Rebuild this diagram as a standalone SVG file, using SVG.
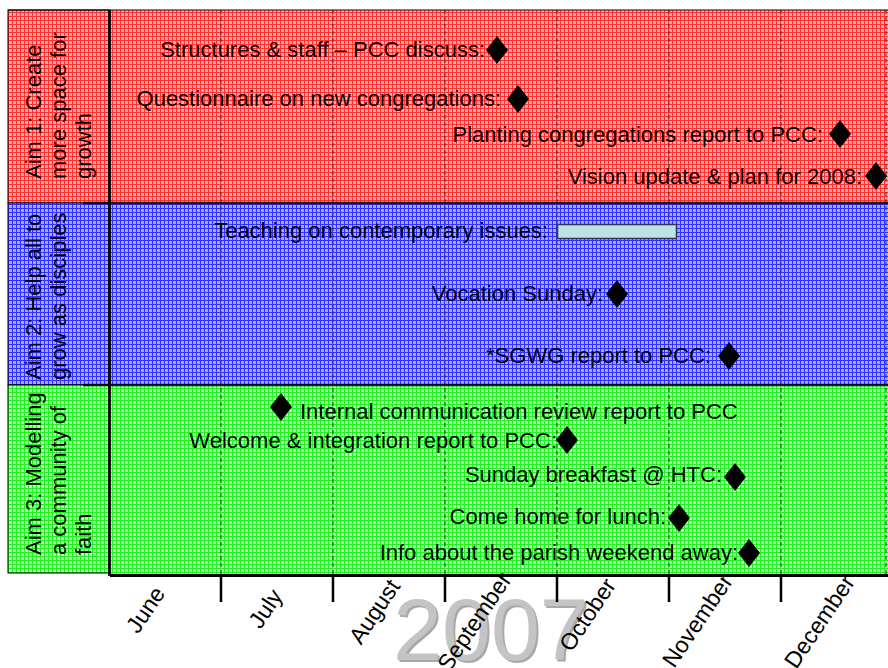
<svg xmlns="http://www.w3.org/2000/svg" width="888" height="668" viewBox="0 0 888 668">
<style>
text{font-family:"Liberation Sans",Arial,sans-serif;fill:#000}
.ev{font-size:22px;text-anchor:end}
.lab{font-size:22px}
.mon{font-size:23px;text-anchor:middle}
.grid{stroke:#333;stroke-width:1;stroke-dasharray:4 3;fill:none}
.tick{stroke:#000;stroke-width:2.5}
.sep{stroke:#000;stroke-width:2.5;stroke-opacity:0.85}
</style>
<defs>
<pattern id="pr" width="4" height="4" patternUnits="userSpaceOnUse"><rect width="4" height="4" fill="#ffa8a8"/><path d="M0 0.5H4M0.5 0V4" stroke="#ff3030" stroke-width="1"/></pattern>
<pattern id="pb" width="4" height="4" patternUnits="userSpaceOnUse"><rect width="4" height="4" fill="#a8a8ff"/><path d="M0 0.5H4M0.5 0V4" stroke="#3030ff" stroke-width="1"/></pattern>
<pattern id="pg" width="4" height="4" patternUnits="userSpaceOnUse"><rect width="4" height="4" fill="#a8ffa8"/><path d="M0 0.5H4M0.5 0V4" stroke="#22f022" stroke-width="1"/></pattern>
<path id="dm" d="M0 -14L11 0L0 14L-11 0Z" fill="#000"/>
</defs>

<g id="lane-aim1">
<rect x="8" y="10" width="880" height="193" fill="url(#pr)"/>
<rect x="8" y="10" width="101" height="193" fill="none" stroke="#000" stroke-width="1"/>
<g transform="rotate(-90)">
<text class="lab" x="-179" y="41">Aim 1: Create</text>
<text class="lab" x="-179" y="66">more space for</text>
<text class="lab" x="-179" y="91">growth</text>
</g>
</g>
<g id="lane-aim2">
<rect x="8" y="203" width="880" height="182" fill="url(#pb)"/>
<rect x="8" y="203" width="101" height="182" fill="none" stroke="#000" stroke-width="1"/>
<g transform="rotate(-90)">
<text class="lab" x="-380" y="41">Aim 2: Help all to</text>
<text class="lab" x="-380" y="66">grow as disciples</text>
</g>
</g>
<g id="lane-aim3">
<rect x="109" y="385" width="779" height="190" fill="url(#pg)"/>
<rect x="8" y="385" width="101" height="188" fill="url(#pg)" stroke="#000" stroke-width="1"/>
<g transform="rotate(-90)">
<text class="lab" x="-555" y="41">Aim 3: Modelling</text>
<text class="lab" x="-555" y="66">a community of</text>
<text class="lab" x="-555" y="91">faith</text>
</g>
</g>

<g id="year">
<text x="395" y="662" font-size="88" style="fill:#a8a8a8">2007</text>
<text x="393" y="660" font-size="88" style="fill:#c4c4c4">2007</text>
</g>

<g id="connectors">
<path class="grid" d="M221 10V575M333 10V575M445 10V575M557 10V575M669 10V575M781 10V575M886 10V575"/>
<line x1="8" y1="10" x2="888" y2="10" stroke="#000" stroke-width="1"/>
<line class="sep" x1="83" y1="203" x2="888" y2="203"/>
<line class="sep" x1="83" y1="385" x2="888" y2="385"/>
<line x1="109.5" y1="10" x2="109.5" y2="576" stroke="#000" stroke-width="3" stroke-opacity="0.9"/>
<line x1="110" y1="575.5" x2="888" y2="575.5" stroke="#000" stroke-width="3"/>
<path class="tick" d="M221 575V602M333 575V602M445 575V602M557 575V602M669 575V602M781 575V602"/>
</g>

<g id="months">
<text class="mon" transform="translate(152,614) rotate(-56)">June</text>
<text class="mon" transform="translate(272,613) rotate(-56)">July</text>
<text class="mon" transform="translate(381,616) rotate(-56)">August</text>
<text class="mon" transform="translate(481,626) rotate(-56)">September</text>
<text class="mon" transform="translate(594,619) rotate(-56)">October</text>
<text class="mon" transform="translate(704,625) rotate(-56)">November</text>
<text class="mon" transform="translate(826,626) rotate(-56)">December</text>
</g>

<g id="ev-structures"><text class="ev" x="485" y="57">Structures &amp; staff – PCC discuss:</text><use href="#dm" x="497" y="50"/></g>
<g id="ev-questionnaire"><text class="ev" x="501" y="106">Questionnaire on new congregations:</text><use href="#dm" x="518" y="99"/></g>
<g id="ev-planting"><text class="ev" x="823" y="142">Planting congregations report to PCC:</text><use href="#dm" x="840" y="134"/></g>
<g id="ev-vision"><text class="ev" x="862" y="184">Vision update &amp; plan for 2008:</text><use href="#dm" x="876" y="176"/></g>
<g id="ev-teaching"><text class="ev" x="548" y="238">Teaching on contemporary issues:</text><rect x="557.5" y="224.5" width="119" height="14" fill="#bde2e2" stroke="#333355" stroke-width="1.5"/></g>
<g id="ev-vocation"><text class="ev" x="603" y="301">Vocation Sunday:</text><use href="#dm" x="617" y="294"/></g>
<g id="ev-sgwg"><text class="ev" x="711" y="363">*SGWG report to PCC:</text><use href="#dm" x="729" y="356"/></g>
<g id="ev-internal"><use href="#dm" x="281" y="407"/><text class="lab" x="300" y="419">Internal communication review report to PCC</text></g>
<g id="ev-welcome"><text class="ev" x="557" y="448">Welcome &amp; integration report to PCC:</text><use href="#dm" x="567" y="440"/></g>
<g id="ev-breakfast"><text class="ev" x="722" y="482">Sunday breakfast @ HTC:</text><use href="#dm" x="735" y="477"/></g>
<g id="ev-lunch"><text class="ev" x="666" y="524">Come home for lunch:</text><use href="#dm" x="679" y="518"/></g>
<g id="ev-weekend"><text class="ev" x="738" y="560">Info about the parish weekend away:</text><use href="#dm" x="749" y="553"/></g>
</svg>
